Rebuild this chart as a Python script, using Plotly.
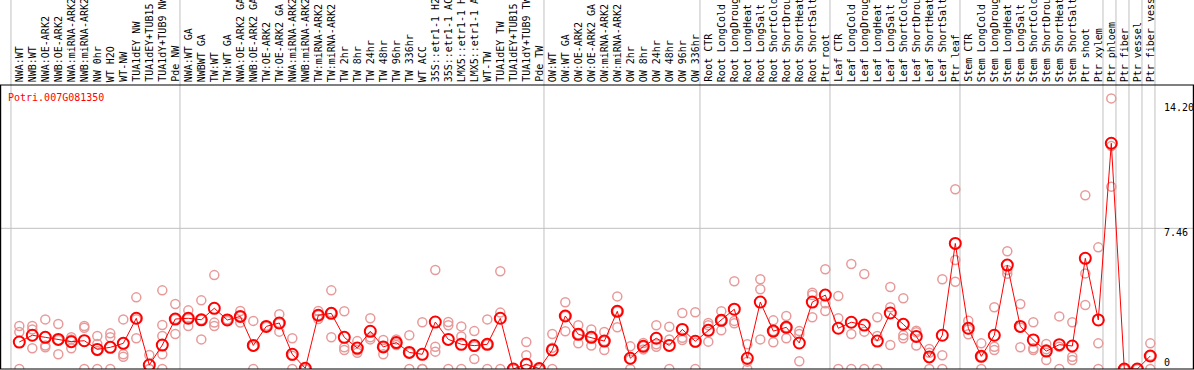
import plotly.graph_objects as go

categories = [
    "NWA:WT", "NWB:WT", "NWA:OE-ARK2", "NWB:OE-ARK2", "NWA:miRNA-ARK2", "NWB:miRNA-ARK2",
    "NW 0hr", "WT H2O", "WT-NW", "TUA1dEY NW", "TUA1dEY+TUB15 NW", "TUA1dY+TUB9 NW", "Pde NW",
    "NWA:WT GA", "NWBWT GA", "TW:WT", "TW:WT GA", "NWA:OE-ARK2 GA", "NWB:OE-ARK2 GA",
    "TW:OE-ARK2", "TW:OE-ARK2 GA", "NWA:miRNA-ARK2 GA", "NWB:miRNA-ARK2 GA", "TW:miRNA-ARK2",
    "TW:miRNA-ARK2 GA", "TW 2hr", "TW 8hr", "TW 24hr", "TW 48hr", "TW 96hr", "TW 336hr",
    "WT ACC", "35S::etr1-1 H2O", "35S::etr1-1 ACC", "LMX5::etr1-1 H2O", "LMX5::etr1-1 ACC",
    "WT-TW", "TUA1dEY TW", "TUA1dEY+TUB15 TW", "TUA1dY+TUB9 TW", "Pde TW",
    "OW:WT", "OW:WT GA", "OW:OE-ARK2", "OW:OE-ARK2 GA", "OW:miRNA-ARK2", "OW:miRNA-ARK2 GA",
    "OW 2hr", "OW 8hr", "OW 24hr", "OW 48hr", "OW 96hr", "OW 336hr",
    "Root CTR", "Root LongCold", "Root LongDrought", "Root LongHeat", "Root LongSalt",
    "Root ShortCold", "Root ShortDrought", "Root ShortHeat", "Root ShortSalt", "Ptr root",
    "Leaf CTR", "Leaf LongCold", "Leaf LongDrought", "Leaf LongHeat", "Leaf LongSalt",
    "Leaf ShortCold", "Leaf ShortDrought", "Leaf ShortHeat", "Leaf ShortSalt", "Ptr leaf",
    "Stem CTR", "Stem LongCold", "Stem LongDrought", "Stem LongHeat", "Stem LongSalt",
    "Stem ShortCold", "Stem ShortDrought", "Stem ShortHeat", "Stem ShortSalt", "Ptr shoot",
    "Ptr xylem", "Ptr phloem", "Ptr fiber", "Ptr vessel", "Ptr fiber vessel",
]

means = [
    1.43, 1.79, 1.68, 1.57, 1.45, 1.50, 1.04, 1.15, 1.36, 2.69, 0.21, 1.27, 2.65,
    2.69, 2.61, 3.22, 2.60, 2.79, 1.25, 2.26, 2.44, 0.78, 0.04, 2.85, 2.95, 1.68,
    1.11, 2.00, 1.17, 1.40, 0.88, 0.78, 2.49, 1.57, 1.31, 1.24, 1.31, 2.69, 0.0,
    0.25, 0.02,
    1.01, 2.81, 1.84, 1.68, 1.48, 3.06, 0.57, 1.20, 1.63, 1.25, 2.10, 1.47,
    2.05, 2.58, 3.17, 0.57, 3.55, 2.01, 2.21, 1.38, 3.55, 3.92,
    2.16, 2.48, 2.33, 1.48, 2.97, 2.37, 1.73, 0.64, 1.79, 6.66,
    2.16, 0.67, 1.79, 5.51, 2.26, 1.54, 0.95, 1.29, 1.22, 5.87, 2.60,
    11.97, 0.0, 0.0, 0.69,
]

replicates = [
    [2.28, 1.96, 0], [2.28, 2.10, 1.10], [2.63, 1.24, 1.15], [2.39, 1.54, 0.78],
    [1.68, 1.57, 1.10], [2.28, 2.19, 0], [1.75, 1.33, 0.95, 0], [1.89, 1.68, 0],
    [2.63, 0.78, 0.65], [3.80, 2.64, 1.63], [0.74, 0, 0], [4.17, 2.33, 1.75, 0.78, 0],
    [3.45, 2.65, 1.86],
    [3.11, 2.69, 2.28], [3.64, 2.61, 1.57], [4.98, 2.46, 2.28], [2.63, 2.60, 2.55],
    [3.08, 2.79, 2.46], [2.55, 1.20, 0], [2.30, 2.24], [2.90, 2.44, 1.98],
    [1.63, 0.70, 0], [0, 0], [3.08, 2.85, 2.65], [4.17, 2.99, 1.68], [3.06, 1.15, 1.01],
    [1.48, 0.99, 0.86], [2.69, 1.68, 1.57], [1.54, 1.17, 0.78], [1.57, 1.36, 1.27],
    [1.79, 0.85, 0], [2.48, 0, 0], [5.25, 1.18, 0.92], [2.49, 2.32, 0], [2.26, 1.73, 0],
    [2.01, 1.20, 0.53], [2.63, 1.30, 0], [5.18, 2.99, 0], [0, 0, 0], [1.43, 0.73, 0],
    [0, 0],
    [1.86, 1.13, 0], [3.54, 2.81, 2.00], [2.32, 1.84, 1.36], [2.10, 1.68, 1.24],
    [1.96, 1.48, 1.01], [3.85, 3.06, 2.21], [1.20, 0.50, 0], [1.38, 1.20, 1.04],
    [2.32, 1.31, 1.18], [2.24, 1.57, 0], [2.97, 1.66, 1.54], [3.01, 1.40, 0],
    [2.44, 2.32, 1.45], [3.06, 2.58, 2.05], [4.65, 2.55, 2.42], [1.31, 0.39, 0],
    [4.76, 4.23, 1.57], [2.58, 2.01, 1.42], [2.81, 2.21, 1.63], [2.01, 1.86, 0.41],
    [4.05, 3.92, 2.74], [5.29, 3.48, 3.08],
    [3.87, 2.69, 0], [5.57, 1.86, 0], [5.04, 1.98, 0], [2.74, 1.75, 0], [4.35, 3.27, 1.27],
    [3.75, 1.79, 1.63], [2.03, 1.95, 1.24], [1.06, 0.86, 0], [4.76, 0.73, 0],
    [9.53, 5.78, 4.63],
    [2.56, 2.10, 1.84], [1.36, 0.65, 0], [3.27, 1.18, 1.01], [6.24, 5.25, 5.05],
    [3.45, 2.20, 1.15], [2.48, 1.10, 1.01], [1.33, 1.05, 0.48], [2.79, 1.18, 0],
    [2.48, 0.65, 0.48], [9.21, 5.07, 3.39], [6.45, 1.36, 0],
    [14.35, 11.82, 9.67], [0, 0, 0], [0, 0], [1.36, 0.70, 0],
]

group_breaks = [0, 13, 41, 53, 63, 73, 84, 85, 86, 87, 88]
gene = "Potri.007G081350"
y_ticks = [14.20, 7.46, 0]
y_tick_text = ["14.20", "7.46", "0"]

W, H = 1194, 370
TOP, BOT = 85, 1
plot_h = H - TOP - BOT
x_first, x_step = 19.3, 13.0
y_max = 15.06
FONT = "DejaVu Sans Mono"

xs = list(range(len(categories)))
rx, ry = [], []
for i, reps in enumerate(replicates):
    for v in reps:
        rx.append(i)
        ry.append(v)

fig = go.Figure()
fig.add_trace(go.Scatter(
    x=rx, y=ry, mode="markers",
    marker=dict(symbol="circle-open", size=9, color="#E89A9A", line=dict(width=1.5, color="#E89A9A")),
    hoverinfo="skip", cliponaxis=True,
))
fig.add_trace(go.Scatter(
    x=xs, y=means, mode="lines+markers",
    line=dict(color="#FF0000", width=1),
    marker=dict(symbol="circle-open", size=11, color="#FF0000", line=dict(width=2, color="#FF0000")),
    hoverinfo="skip", cliponaxis=True,
))

shapes = []
for k in group_breaks:
    shapes.append(dict(type="line", xref="x", yref="paper", x0=k - 0.64, x1=k - 0.64,
                       y0=0, y1=(H - BOT) / plot_h + 0.01, line=dict(color="#C0C0C0", width=1),
                       layer="below"))
shapes.append(dict(type="line", xref="paper", yref="y", x0=0, x1=1, y0=7.46, y1=7.46,
                   line=dict(color="#C0C0C0", width=1), layer="below"))
shapes.append(dict(type="rect", xref="paper", yref="paper", x0=0.6 / W, x1=1 - 0.6 / W,
                   y0=0, y1=1, line=dict(color="black", width=1.2), layer="above"))

annotations = []
for i, c in enumerate(categories):
    annotations.append(dict(x=i, y=1 + 2.0 / plot_h, xref="x", yref="paper", text=c,
                            textangle=-90, showarrow=False, xanchor="center", yanchor="bottom",
                            font=dict(family=FONT, size=10, color="black"), borderpad=0))
annotations.append(dict(x=6 / W, y=(H - BOT - 97) / plot_h, xref="paper", yref="paper",
                        text=gene, showarrow=False, xanchor="left", yanchor="middle",
                        font=dict(family=FONT, size=10, color="#FF0000")))
tick_pix = [107, 232, 362]
for t, py in zip(y_tick_text, tick_pix):
    annotations.append(dict(x=1163 / W, y=(H - BOT - py) / plot_h, xref="paper", yref="paper",
                            text=t, showarrow=False, xanchor="left", yanchor="middle",
                            font=dict(family=FONT, size=10, color="black"), borderpad=0))

fig.update_layout(
    width=W, height=H,
    margin=dict(l=0, r=0, t=TOP, b=BOT, pad=0),
    paper_bgcolor="white", plot_bgcolor="rgba(0,0,0,0)",
    showlegend=False,
    xaxis=dict(range=[-x_first / x_step, (W - x_first) / x_step], showgrid=False,
               zeroline=False, showticklabels=False, ticks="", fixedrange=True),
    yaxis=dict(range=[0, y_max], showgrid=False, zeroline=False, showticklabels=False,
               ticks="", fixedrange=True),
    shapes=shapes, annotations=annotations,
    hovermode=False,
)

fig.write_html(
    "out.html",
    config={"displayModeBar": False},
    post_script="document.body.style.margin='0';document.body.style.overflow='hidden';",
)
